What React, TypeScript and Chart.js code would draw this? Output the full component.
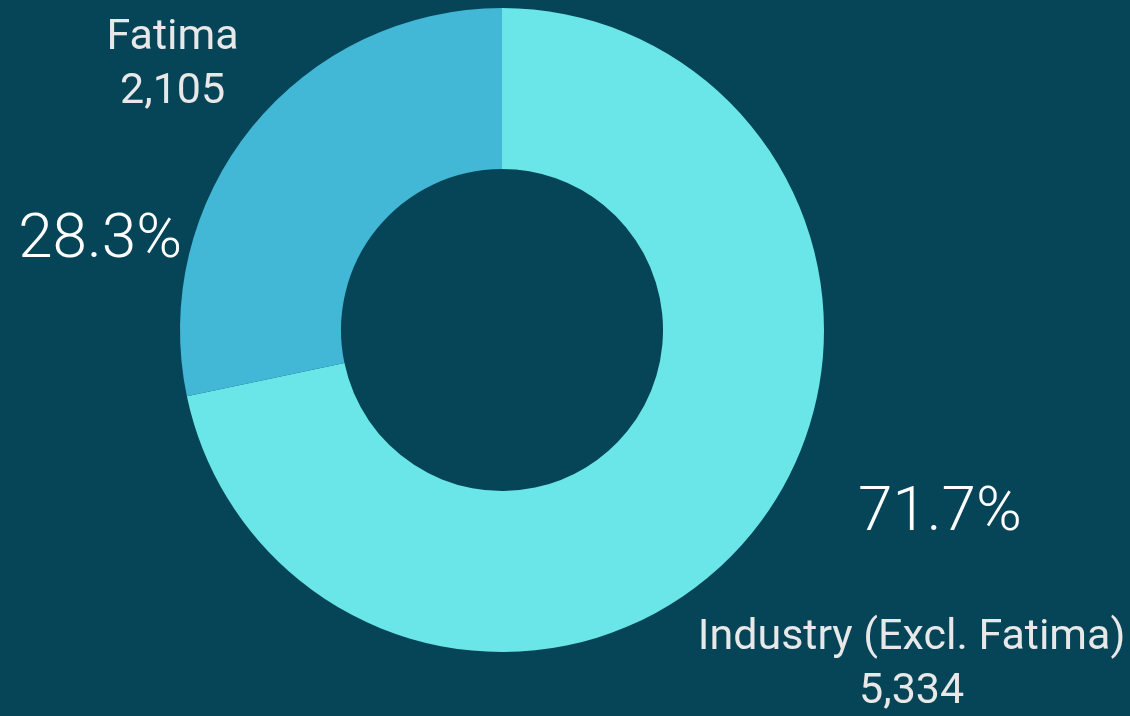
import React, { useEffect, useRef } from "react";
import { Chart, registerables } from "chart.js";

Chart.register(...registerables);

const categories = ["Industry (Excl. Fatima)", "Fatima"];
const values = [5334, 2105];
const colors = ["#6AE5E8", "#42B7D6"];
const BG = "#054557";

const labelPlugin = {
  id: "sliceLabels",
  afterDatasetsDraw(chart: any) {
    const { ctx } = chart;
    const meta = chart.getDatasetMeta(0);
    const total = values.reduce((a, b) => a + b, 0);
    const arc0 = meta.data[0];
    const cx = arc0.x;
    const cy = arc0.y;
    const R = arc0.outerRadius;
    // offsets relative to doughnut center & radius
    const placements = [
      { pct: [1.36, 0.574], name: [1.272, 0.958] },
      { pct: [-1.248, -0.274], name: [-1.023, -0.906] },
    ];
    ctx.save();
    ctx.textAlign = "center";
    ctx.textBaseline = "middle";
    values.forEach((v, i) => {
      const p = placements[i];
      const pct = ((v / total) * 100).toFixed(1) + "%";
      ctx.fillStyle = "#ffffff";
      ctx.font = "300 62px Roboto";
      ctx.fillText(pct, cx + p.pct[0] * R, cy + p.pct[1] * R);
      ctx.fillStyle = "#e8e8e8";
      ctx.font = "400 43px Roboto";
      const nx = cx + p.name[0] * R;
      const ny = cy + p.name[1] * R;
      ctx.fillText(categories[i], nx, ny);
      ctx.fillText(v.toLocaleString("en-US"), nx, ny + 54);
    });
    ctx.restore();
  },
};

export default function App() {
  const ref = useRef<HTMLCanvasElement>(null);
  useEffect(() => {
    document.body.style.margin = "0";
    document.body.style.background = BG;
    const chart = new Chart(ref.current!, {
      type: "doughnut",
      data: {
        labels: categories,
        datasets: [
          {
            data: values,
            backgroundColor: colors,
            borderWidth: 0,
          },
        ],
      },
      options: {
        animation: false,
        responsive: false,
        cutout: "50%",
        layout: { padding: { top: 8, bottom: 64, left: 180, right: 306 } },
        plugins: { legend: { display: false }, tooltip: { enabled: false } },
      },
      plugins: [labelPlugin],
    });
    return () => chart.destroy();
  }, []);
  return (
    <div style={{ width: 1130, height: 716, background: BG }}>
      <canvas ref={ref} width={1130} height={716} style={{ display: "block" }} />
    </div>
  );
}
